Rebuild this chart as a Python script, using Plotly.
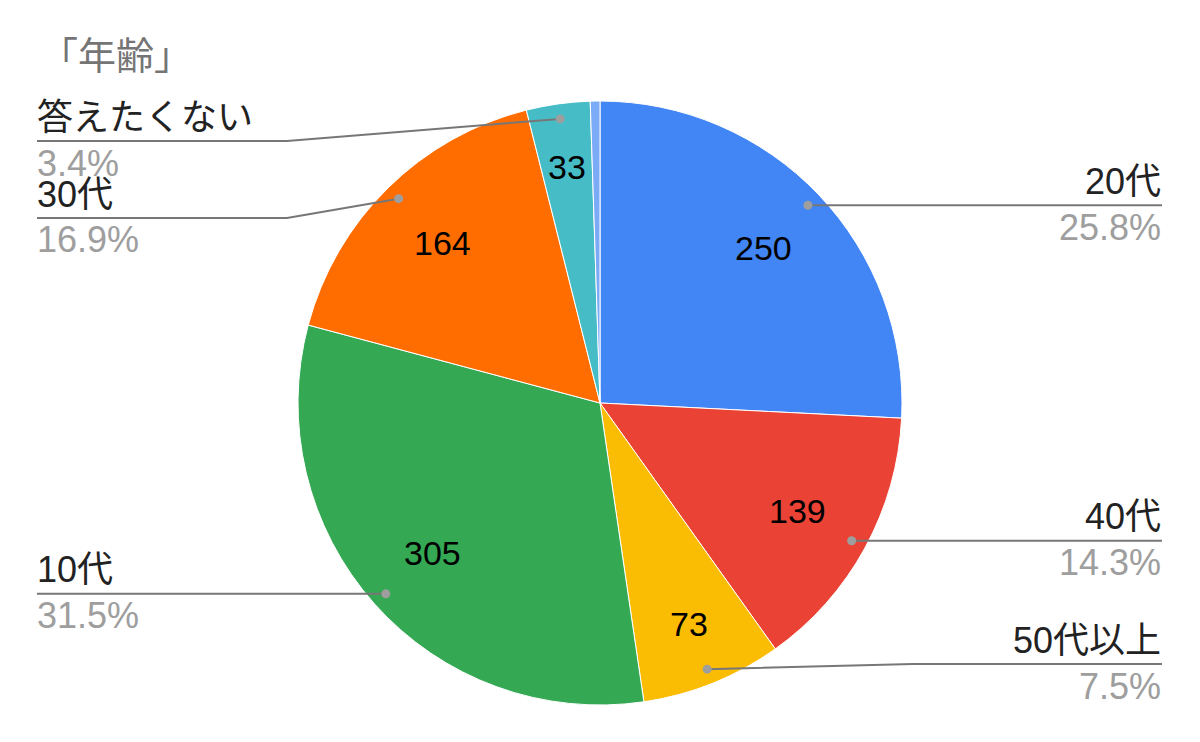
import math
import plotly.graph_objects as go

# ---- data ----
title_text = "「年齢」"
labels = ["20代", "40代", "50代以上", "10代", "30代", "答えたくない", "その他"]
values = [250, 139, 73, 305, 164, 33, 5]
colors = ["#4285f4", "#ea4335", "#fbbc04", "#34a853", "#ff6d01", "#46bdc6", "#7baaf7"]
show_label = [True, True, True, True, True, True, False]

# ---- layout parameters ----
W, H = 1200, 742
pie_top, pie_bottom = 101, 705
R = (pie_bottom - pie_top) / 2
cx, cy = W / 2, pie_top + R
FONT = "Liberation Sans, Arial, Noto Sans CJK JP, sans-serif"
left_x, right_x = 37, 1163
left_elbow, right_elbow = 287, 913
label_gap, label_ymin, label_ymax = 77, 141, 664
dot_r_frac = 0.95
line_color = "#777777"
dot_color = "#9e9e9e"
pct_color = "#9e9e9e"


def P(x, y):
    return x / W, 1 - y / H


total = sum(values)
mids = []
acc = 0
for v in values:
    mids.append((acc + v / 2) / total * 2 * math.pi)
    acc += v

fig = go.Figure(go.Pie(
    labels=labels, values=values, sort=False, direction="clockwise", rotation=0,
    marker=dict(colors=colors, line=dict(color="white", width=1)),
    textinfo="none", hoverinfo="label+value+percent",
    domain=dict(x=[0, 1], y=[1 - pie_bottom / H, 1 - pie_top / H]),
    showlegend=False,
))

annotations = []
shapes = []

# title
tx, ty = P(38, 56)
annotations.append(dict(x=tx, y=ty, xref="paper", yref="paper", text=title_text,
                        showarrow=False, xanchor="left", yanchor="middle",
                        font=dict(family=FONT, size=38, color="#757575")))

# value labels inside
for i, (v, th) in enumerate(zip(values, mids)):
    if not show_label[i]:
        continue
    frac = v / total
    rf = 0.745 if frac > 0.1 else 0.79
    x = cx + rf * R * math.sin(th)
    y = cy - rf * R * math.cos(th)
    ax, ay = P(x, y)
    annotations.append(dict(x=ax, y=ay, xref="paper", yref="paper", text=str(v),
                            showarrow=False, xanchor="center", yanchor="middle",
                            font=dict(family=FONT, size=34, color="#000000")))

# outside labels
items = {"left": [], "right": []}
for i, th in enumerate(mids):
    if not show_label[i]:
        continue
    dx = cx + dot_r_frac * R * math.sin(th)
    dy = cy - dot_r_frac * R * math.cos(th)
    side = "right" if math.sin(th) > 0 else "left"
    items[side].append([i, dx, dy, dy])

for side, lst in items.items():
    lst.sort(key=lambda t: t[2])
    prev = None
    for it in lst:
        y = max(it[2], label_ymin)
        if prev is not None:
            y = max(y, prev + label_gap)
        it[3] = y
        prev = y
    nxt = None
    for it in reversed(lst):
        y = min(it[3], label_ymax)
        if nxt is not None:
            y = min(y, nxt - label_gap)
        it[3] = y
        nxt = y

    for i, dx, dy, ly in lst:
        end_x = right_x - 1 if side == "right" else left_x
        elbow_x = right_elbow if side == "right" else left_elbow
        if abs(ly - dy) < 0.5:
            pts = [(dx, dy), (end_x, ly)]
        else:
            pts = [(dx, dy), (elbow_x, ly), (end_x, ly)]
        path = ""
        for k, (px, py) in enumerate(pts):
            qx, qy = P(px, py)
            path += ("M" if k == 0 else " L") + f" {qx:.6f},{qy:.6f}"
        shapes.append(dict(type="path", path=path, xref="paper", yref="paper",
                           line=dict(color=line_color, width=2), layer="above"))
        x0, y0 = P(dx - 4.5, dy - 4.5)
        x1, y1 = P(dx + 4.5, dy + 4.5)
        shapes.append(dict(type="circle", xref="paper", yref="paper",
                           x0=x0, x1=x1, y0=y1, y1=y0,
                           fillcolor=dot_color, line=dict(width=0), layer="above"))
        anchor = "right" if side == "right" else "left"
        ax, ay = P(right_x if side == "right" else left_x - 2, ly - 24)
        annotations.append(dict(x=ax, y=ay, xref="paper", yref="paper", text=labels[i],
                                showarrow=False, xanchor=anchor, yanchor="middle",
                                font=dict(family=FONT, size=36, color="#222222")))
        pct = f"{values[i] / total * 100:.1f}%"
        ax, ay = P(right_x if side == "right" else left_x - 2, ly + 22)
        annotations.append(dict(x=ax, y=ay, xref="paper", yref="paper", text=pct,
                                showarrow=False, xanchor=anchor, yanchor="middle",
                                font=dict(family=FONT, size=36, color=pct_color)))

fig.update_layout(
    width=W, height=H,
    margin=dict(l=0, r=0, t=0, b=0),
    paper_bgcolor="white", plot_bgcolor="white",
    annotations=annotations, shapes=shapes,
)

fig.write_html("out.html", config={"displayModeBar": False},
               post_script="document.body.style.margin='0';document.body.style.padding='0';")
